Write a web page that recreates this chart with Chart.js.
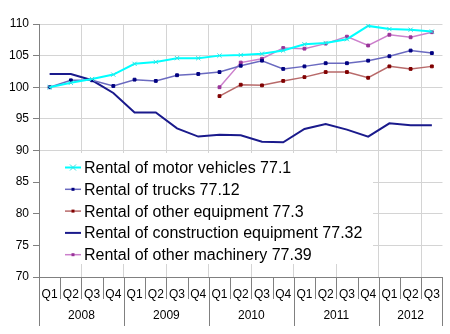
<!DOCTYPE html>
<html>
<head>
<meta charset="utf-8">
<script src="https://cdn.jsdelivr.net/npm/chart.js@4.4.1/dist/chart.umd.min.js"></script>
<style>
  html, body { margin: 0; padding: 0; background: #fff; }
  #wrap { width: 450px; height: 334px; position: relative; }
</style>
</head>
<body>
<div id="wrap"><canvas id="c" width="450" height="334"></canvas></div>
<script>
const quarters = ['Q1','Q2','Q3','Q4','Q1','Q2','Q3','Q4','Q1','Q2','Q3','Q4','Q1','Q2','Q3','Q4','Q1','Q2','Q3'];
const years = ['2008','2009','2010','2011','2012'];
const quartersPerYear = [4, 4, 4, 4, 3];
const yTicks = [70, 75, 80, 85, 90, 95, 100, 105, 110];

const seriesNames = [
  'Rental of motor vehicles 77.1',
  'Rental of trucks 77.12',
  'Rental of other equipment 77.3',
  'Rental of construction equipment 77.32',
  'Rental of other machinery 77.39'
];
const motorVehicles = [100.0,100.7,101.3,102.0,103.7,104.0,104.6,104.6,105.0,105.1,105.3,105.8,106.8,107.0,107.6,109.7,109.2,109.1,108.8];
const trucks = [100.0,101.1,101.1,100.2,101.2,101.0,101.9,102.1,102.4,103.4,104.2,102.9,103.3,103.8,103.8,104.2,104.9,105.8,105.4];
const otherEquipment = [null,null,null,null,null,null,null,null,98.6,100.4,100.3,101.0,101.6,102.4,102.4,101.5,103.3,102.9,103.3];
const construction = [102.1,102.1,101.1,99.1,96.0,96.0,93.5,92.2,92.5,92.4,91.4,91.3,93.4,94.2,93.3,92.2,94.3,94.0,94.0];
const otherMachinery = [null,null,null,null,null,null,null,null,100.0,103.9,104.5,106.2,106.1,106.9,108.0,106.6,108.3,107.9,108.7];

const FONT = '"Liberation Sans", Arial, sans-serif';

const legendPlugin = {
  id: 'boxLegend',
  afterDraw(chart) {
    const ctx = chart.ctx;
    const area = chart.chartArea;
    const xs = chart.scales.x;
    // multi-level category axis
    ctx.save();
    ctx.strokeStyle = '#808080';
    ctx.lineWidth = 1;
    const n = quarters.length;
    const step = (area.right - area.left) / n;
    const yearBounds = [0];
    quartersPerYear.reduce((acc, q) => { yearBounds.push(acc + q); return acc + q; }, 0);
    for (let b = 0; b <= n; b++) {
      const x = Math.round(area.left + b * step) + 0.5;
      const isYear = yearBounds.includes(b);
      ctx.beginPath();
      ctx.moveTo(x, area.bottom);
      ctx.lineTo(x, isYear ? area.bottom + 49 : area.bottom + 22);
      ctx.stroke();
    }
    ctx.fillStyle = '#000';
    ctx.font = '12px ' + FONT;
    ctx.textAlign = 'center';
    ctx.textBaseline = 'middle';
    for (let i = 0; i < years.length; i++) {
      const x0 = area.left + yearBounds[i] * step;
      const x1 = area.left + yearBounds[i + 1] * step;
      ctx.fillText(years[i], (x0 + x1) / 2, area.bottom + 39);
    }
    // legend box
    const bx = area.left + 1, by = 153, bw = 333, bh = 111;
    ctx.fillStyle = '#ffffff';
    ctx.fillRect(bx, by, bw, bh);
    ctx.font = '16px ' + FONT;
    ctx.textAlign = 'left';
    ctx.textBaseline = 'middle';
    chart.data.datasets.forEach((ds, i) => {
      const y = 167.5 + i * 21.8;
      ctx.strokeStyle = ds.borderColor;
      ctx.lineWidth = ds.borderWidth;
      ctx.beginPath();
      ctx.moveTo(65, y);
      ctx.lineTo(81, y);
      ctx.stroke();
      if (ds.pointRadius > 0) {
        ctx.fillStyle = ds.pointBackgroundColor;
        ctx.strokeStyle = ds.pointBorderColor;
        ctx.lineWidth = 1;
        if (ds.pointStyle === 'crossRot') {
          ctx.beginPath();
          ctx.moveTo(70, y - 3); ctx.lineTo(76, y + 3);
          ctx.moveTo(76, y - 3); ctx.lineTo(70, y + 3);
          ctx.stroke();
        } else {
          ctx.fillRect(71.5, y - 1.5, 3, 3);
        }
      }
      ctx.fillStyle = '#000';
      ctx.fillText(ds.label, 84, y + 1);
    });
    ctx.restore();
  }
};

const chart = new Chart(document.getElementById('c'), {
  type: 'line',
  data: {
    labels: quarters,
    datasets: [
      { label: seriesNames[0], data: motorVehicles, borderColor: '#00ffff', borderWidth: 2,
        pointStyle: 'crossRot', pointRadius: 3, pointBorderColor: '#33e0e0', pointBackgroundColor: '#33e0e0', pointBorderWidth: 1 },
      { label: seriesNames[1], data: trucks, borderColor: '#6a6ac0', borderWidth: 1.5,
        pointStyle: 'rect', pointRadius: 2, pointBorderColor: '#000080', pointBackgroundColor: '#000080', pointBorderWidth: 1 },
      { label: seriesNames[2], data: otherEquipment, borderColor: '#b86a6a', borderWidth: 1.5,
        pointStyle: 'rect', pointRadius: 2, pointBorderColor: '#800000', pointBackgroundColor: '#800000', pointBorderWidth: 1 },
      { label: seriesNames[3], data: construction, borderColor: '#1a1a8c', borderWidth: 2,
        pointRadius: 0, pointBorderColor: '#1a1a8c', pointBackgroundColor: '#1a1a8c' },
      { label: seriesNames[4], data: otherMachinery, borderColor: '#cc80cc', borderWidth: 1.5,
        pointStyle: 'rect', pointRadius: 2, pointBorderColor: '#993399', pointBackgroundColor: '#993399', pointBorderWidth: 1 }
    ]
  },
  options: {
    responsive: false,
    animation: false,
    devicePixelRatio: 1,
    layout: { padding: { left: 0, right: 3, top: 24, bottom: 0 } },
    plugins: { legend: { display: false }, tooltip: { enabled: false } },
    elements: { line: { tension: 0 } },
    scales: {
      x: {
        type: 'category',
        offset: true,
        grid: {
          offset: true,
          drawTicks: false,
          color: (c) => (c.tick && c.index > 0 && c.index % 2 === 0) ? '#d4d4d4' : 'rgba(0,0,0,0)'
        },
        border: { display: true, color: '#808080' },
        ticks: { color: '#000', font: { size: 12, family: FONT }, padding: 10, autoSkip: false, maxRotation: 0 },
        afterFit: (s) => { s.height = 57; }
      },
      y: {
        min: 70,
        max: 110,
        afterBuildTicks: (s) => { s.ticks = yTicks.map(v => ({ value: v })); },
        grid: { color: '#d4d4d4', tickLength: 6, tickColor: '#808080' },
        border: { display: true, color: '#808080' },
        ticks: { color: '#000', font: { size: 12, family: FONT }, padding: 4 },
        afterFit: (s) => { s.width = 39; }
      }
    }
  },
  plugins: [legendPlugin]
});
</script>
</body>
</html>
